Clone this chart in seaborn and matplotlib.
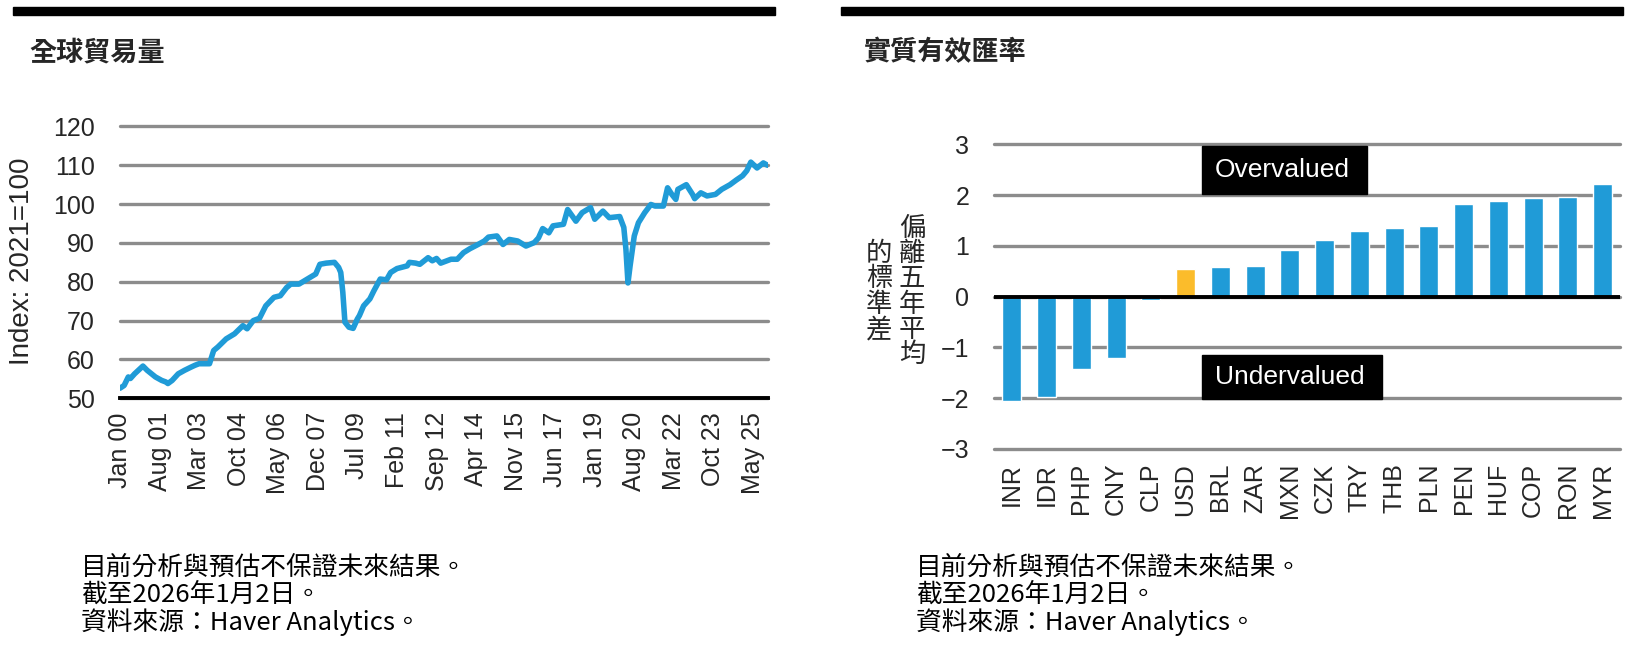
import pandas as pd
import seaborn as sns
import matplotlib
matplotlib.use('Agg')
import matplotlib.pyplot as plt
import matplotlib.dates as mdates
from matplotlib.patches import Rectangle

# --- left panel: global trade volume, index 2021=100 ---
trade_months = [
    '2000-01', '2000-03', '2000-05', '2000-06', '2000-08', '2000-12', '2001-02', '2001-06',
    '2001-09', '2001-11', '2001-12', '2002-02', '2002-05', '2002-08', '2002-11', '2003-01',
    '2003-03', '2003-06', '2003-08', '2003-10', '2003-12', '2004-04', '2004-08', '2004-12',
    '2005-02', '2005-05', '2005-08', '2005-11', '2006-03', '2006-06', '2006-09', '2006-11',
    '2007-03', '2007-07', '2007-11', '2008-01', '2008-04', '2008-08', '2008-10', '2008-11',
    '2008-12', '2009-01', '2009-03', '2009-05', '2009-07', '2009-08', '2009-10', '2010-01',
    '2010-03', '2010-06', '2010-09', '2010-11', '2011-02', '2011-07', '2011-08', '2011-11',
    '2012-01', '2012-05', '2012-07', '2012-09', '2012-11', '2013-04', '2013-07', '2013-10',
    '2014-01', '2014-05', '2014-08', '2014-10', '2015-02', '2015-05', '2015-08', '2015-12',
    '2016-04', '2016-08', '2016-10', '2016-12', '2017-03', '2017-05', '2017-10', '2017-12',
    '2018-04', '2018-07', '2018-11', '2019-01', '2019-05', '2019-08', '2020-01', '2020-03',
    '2020-04', '2020-05', '2020-06', '2020-08', '2020-10', '2021-01', '2021-04', '2021-06',
    '2021-10', '2021-12', '2022-02', '2022-04', '2022-05', '2022-09', '2022-12', '2023-01',
    '2023-04', '2023-07', '2023-11', '2024-02', '2024-06', '2024-09', '2024-12', '2025-02',
    '2025-04', '2025-07', '2025-10', '2025-12',
]
trade_index = [
    52.6, 53.3, 55.5, 55.1, 56.3, 58.3, 57.2, 55.5,
    54.6, 54.2, 53.8, 54.6, 56.3, 57.2, 58.0, 58.5,
    58.9, 58.9, 58.9, 62.3, 63.2, 65.3, 66.6, 68.7,
    67.9, 70.0, 70.6, 73.8, 76.0, 76.4, 78.5, 79.4,
    79.4, 80.7, 82.0, 84.5, 84.8, 85.0, 83.7, 82.4,
    77.3, 69.6, 68.3, 68.0, 70.4, 71.3, 73.8, 75.6,
    77.7, 80.7, 80.5, 82.4, 83.4, 84.1, 85.0, 84.8,
    84.5, 86.2, 85.4, 86.0, 84.8, 85.8, 85.8, 87.5,
    88.5, 89.6, 90.5, 91.5, 91.8, 89.6, 90.9, 90.5,
    89.2, 90.1, 91.3, 93.7, 92.6, 94.4, 94.8, 98.6,
    95.6, 97.8, 99.1, 96.1, 98.2, 96.5, 96.8, 94.0,
    88.4, 79.7, 84.1, 91.8, 95.2, 97.8, 99.9, 99.5,
    99.5, 104.2, 102.5, 101.2, 103.8, 105.0, 102.5, 101.4,
    102.9, 102.1, 102.5, 103.8, 105.0, 106.2, 107.3, 108.6,
    110.8, 109.3, 110.6, 110.0,
]
trade_yticks = [50, 60, 70, 80, 90, 100, 110, 120]

# --- right panel: real effective exchange rate, std dev from 5y average ---
currencies = ['INR', 'IDR', 'PHP', 'CNY', 'CLP', 'USD', 'BRL', 'ZAR', 'MXN',
              'CZK', 'TRY', 'THB', 'PLN', 'PEN', 'HUF', 'COP', 'RON', 'MYR']
reer_sd = [-2.05, -1.97, -1.42, -1.20, -0.07, 0.55, 0.59, 0.61, 0.93,
           1.11, 1.29, 1.35, 1.39, 1.82, 1.88, 1.94, 1.97, 2.23]
reer_yticks = [-3, -2, -1, 0, 1, 2, 3]

BLUE = '#209bd7'
YELLOW = '#fbbc2b'
GRID = '#8c8c8c'
CJK = ['Noto Sans CJK TC', 'DejaVu Sans']

sns.set_style('white')
plt.rcParams['font.family'] = ['Liberation Sans', 'Noto Sans CJK TC', 'DejaVu Sans']

fig = plt.figure(figsize=(16.33, 6.45), dpi=100)

# ---------------- left chart ----------------
ax1 = fig.add_axes([0.0735, 0.3825, 0.3965, 0.4215])
df_trade = pd.DataFrame({'month': pd.to_datetime(trade_months), 'index': trade_index})
sns.lineplot(data=df_trade, x='month', y='index', ax=ax1, color=BLUE, lw=4.0,
             solid_joinstyle='round', solid_capstyle='round', zorder=3)
ax1.set_ylim(50, 120)
ax1.set_yticks(trade_yticks)
ax1.set_xlim(pd.Timestamp('2000-01-01'), pd.Timestamp('2025-12-01'))
ax1.set_xticks(pd.date_range('2000-01-01', periods=17, freq='19MS'))
ax1.xaxis.set_major_formatter(mdates.DateFormatter('%b %y'))
ax1.yaxis.grid(True, color=GRID, lw=2.4)
for gl in ax1.get_ygridlines():
    gl.set_clip_on(False)
ax1.set_axisbelow(True)
for s in ['top', 'right', 'left']:
    ax1.spines[s].set_visible(False)
ax1.spines['bottom'].set_color('black')
ax1.spines['bottom'].set_linewidth(2.8)
ax1.spines['bottom'].set_zorder(4)
ax1.tick_params(axis='both', length=0, labelsize=18)
ax1.tick_params(axis='y', pad=18)
ax1.tick_params(axis='x', pad=10, labelrotation=90)
ax1.set_xlabel('')
ax1.set_ylabel('')
fig.text(0.0135, 0.595, 'Index: 2021=100', rotation=90, ha='center', va='center', fontsize=20)

# ---------------- right chart ----------------
ax2 = fig.add_axes([0.609, 0.304, 0.383, 0.472])
df_reer = pd.DataFrame({'ccy': currencies, 'sd': reer_sd})
bar_colors = {c: (YELLOW if c == 'USD' else BLUE) for c in currencies}
sns.barplot(data=df_reer, x='ccy', y='sd', hue='ccy', palette=bar_colors, legend=False,
            width=0.55, saturation=1, ax=ax2, zorder=3)
ax2.set_ylim(-3, 3)
ax2.set_xlim(-0.5, len(currencies) - 0.5)
ax2.set_yticks(reer_yticks)
ax2.yaxis.grid(True, color=GRID, lw=2.4)
for gl in ax2.get_ygridlines():
    gl.set_clip_on(False)
ax2.set_axisbelow(True)
ax2.axhline(0, color='black', lw=2.8, zorder=4)
for s in ax2.spines.values():
    s.set_visible(False)
ax2.tick_params(axis='both', length=0, labelsize=18)
ax2.tick_params(axis='y', pad=18)
ax2.tick_params(axis='x', pad=10, labelrotation=90)
ax2.set_xlabel('')
ax2.set_ylabel('')

# over / under valued tags
ax2.add_patch(Rectangle((5.46, 2.03), 4.75, 0.94, color='black', zorder=5))
ax2.text(5.84, 2.5, 'Overvalued', color='white', fontsize=19, ha='left', va='center', zorder=6)
ax2.add_patch(Rectangle((5.46, -2.01), 5.18, 0.86, color='black', zorder=5))
ax2.text(5.84, -1.58, 'Undervalued', color='white', fontsize=19, ha='left', va='center', zorder=6)

# stacked CJK axis title
fig.text(0.5585, 0.548, '\n'.join('偏離五年平均'), ha='center', va='center', fontsize=19,
         family=CJK, linespacing=0.92)
fig.text(0.5385, 0.548, '\n'.join('的標準差'), ha='center', va='center', fontsize=19,
         family=CJK, linespacing=0.92)

# ---------------- headers and notes ----------------
fig.add_artist(Rectangle((0.0077, 0.977), 0.467, 0.012, transform=fig.transFigure,
                         color='black'))
fig.add_artist(Rectangle((0.515, 0.977), 0.479, 0.012, transform=fig.transFigure,
                         color='black'))
fig.text(0.018, 0.919, '全球貿易量', ha='left', va='center', fontsize=19.5,
         fontweight='bold', family=CJK)
fig.text(0.529, 0.919, '實質有效匯率', ha='left', va='center', fontsize=19.5,
         fontweight='bold', family=CJK)

notes = ['目前分析與預估不保證未來結果。', '截至2026年1月2日。', '資料來源：Haver Analytics。']
for x0 in [0.0497, 0.561]:
    for i, line in enumerate(notes):
        fig.text(x0, 0.120 - i * 0.042, line, ha='left', va='center', fontsize=18.5,
                 family=CJK, color='black')

fig.savefig('out.png', dpi=100)
